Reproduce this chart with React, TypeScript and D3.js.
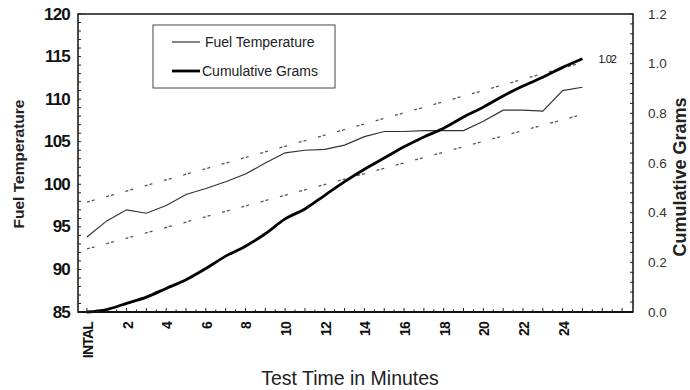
import React from "react";
import * as d3 from "d3";

// Test minutes (0 = initial reading)
const minutes = [0, 1, 2, 3, 4, 5, 6, 7, 8, 9, 10, 11, 12, 13, 14, 15, 16, 17, 18, 19, 20, 21, 22, 23, 24, 25];
const fuelTemperature = [93.8, 95.7, 97.0, 96.6, 97.5, 98.8, 99.5, 100.3, 101.2, 102.5, 103.7, 104.0, 104.1, 104.6, 105.6, 106.2, 106.2, 106.3, 106.3, 106.3, 107.4, 108.7, 108.7, 108.6, 111.0, 111.4];
const cumulativeGrams = [0, 0.01, 0.035, 0.06, 0.095, 0.13, 0.175, 0.225, 0.265, 0.315, 0.375, 0.415, 0.47, 0.525, 0.575, 0.62, 0.665, 0.705, 0.74, 0.785, 0.825, 0.87, 0.91, 0.945, 0.985, 1.02];

// Straight temperature band limits
const bandMinutes = [0, 25];
const upperBand = [97.9, 114.3];
const lowerBand = [92.4, 108.2];

// Axis labels
const tempTicks = [85, 90, 95, 100, 105, 110, 115, 120];
const gramTicks = [0, 0.2, 0.4, 0.6, 0.8, 1.0, 1.2];
const xTickMinutes = [0, 2, 4, 6, 8, 10, 12, 14, 16, 18, 20, 22, 24];
const xTickLabels = ["INTAL", "2", "4", "6", "8", "10", "12", "14", "16", "18", "20", "22", "24"];

const W = 690;
const H = 390;
const left = 78;
const right = 633;
const top = 14;
const bottom = 312;

export default function App() {
  const x = d3.scaleLinear().domain([-0.45, 27.55]).range([left, right]);
  const yT = d3.scaleLinear().domain([85, 120]).range([bottom, top]);
  const yG = d3.scaleLinear().domain([0, 1.2]).range([bottom, top]);

  const tempLine = d3
    .line<number>()
    .x((_, i) => x(minutes[i]))
    .y((d) => yT(d));
  const gramLine = d3
    .line<number>()
    .x((_, i) => x(minutes[i]))
    .y((d) => yG(d))
    .curve(d3.curveMonotoneX);
  const bandLine = d3
    .line<number>()
    .x((_, i) => x(bandMinutes[i]))
    .y((d) => yT(d));

  const tempMinor = d3.range(85, 120.001, 1);
  const gramMinor = d3.range(0, 1.2001, 0.04);
  const xMinor = d3.range(0, 27.01, 0.5);

  const last = cumulativeGrams.length - 1;
  const fmt = d3.format(".2f");

  return (
    <svg
      width={W}
      height={H}
      style={{ position: "absolute", left: 0, top: 0, background: "#fff" }}
      fontFamily="'Liberation Sans', Arial, sans-serif"
    >
      <rect x={0} y={0} width={W} height={H} fill="#fff" />

      {/* band lines */}
      <path d={bandLine(upperBand) || ""} fill="none" stroke="#555" strokeWidth={1.3} strokeDasharray="3 2 3 12" />
      <path d={bandLine(lowerBand) || ""} fill="none" stroke="#555" strokeWidth={1.3} strokeDasharray="3 2 3 12" />

      {/* series */}
      <path d={tempLine(fuelTemperature) || ""} fill="none" stroke="#333" strokeWidth={1.2} />
      <path d={gramLine(cumulativeGrams) || ""} fill="none" stroke="#000" strokeWidth={2.8} />
      <text
        x={x(minutes[last]) + 16}
        y={yG(cumulativeGrams[last]) + 1}
        fontSize={11}
        letterSpacing={-1}
        dominantBaseline="middle"
        fill="#111"
      >
        {fmt(cumulativeGrams[last])}
      </text>

      {/* frame */}
      <rect x={left} y={top} width={right - left} height={bottom - top} fill="none" stroke="#111" strokeWidth={1.5} />
      <line x1={left} x2={right} y1={bottom} y2={bottom} stroke="#111" strokeWidth={2} />

      {/* left ticks */}
      {tempMinor.map((v) => (
        <line key={"tl" + v} x1={left} x2={left + 3} y1={yT(v)} y2={yT(v)} stroke="#222" strokeWidth={1} />
      ))}
      {tempTicks.map((v) => (
        <text
          key={"tt" + v}
          x={70}
          y={yT(v)}
          textAnchor="end"
          dominantBaseline="central"
          fontSize={17}
          fontWeight="bold"
          letterSpacing={-0.8}
          fill="#111"
        >
          {v}
        </text>
      ))}

      {/* right ticks */}
      {gramMinor.map((v) => (
        <line key={"gl" + v} x1={right - 3} x2={right} y1={yG(v)} y2={yG(v)} stroke="#222" strokeWidth={1} />
      ))}
      {gramTicks.map((v) => (
        <text
          key={"gt" + v}
          x={648}
          y={yG(v)}
          textAnchor="start"
          dominantBaseline="central"
          fontSize={13.5}
          fill="#333"
        >
          {d3.format(".1f")(v)}
        </text>
      ))}

      {/* bottom ticks */}
      {xMinor.map((v) => (
        <line
          key={"xl" + v}
          x1={x(v)}
          x2={x(v)}
          y1={bottom}
          y2={bottom - (Number.isInteger(v) ? 4 : 2.5)}
          stroke="#222"
          strokeWidth={1}
        />
      ))}
      {xTickMinutes.map((m, i) => (
        <text
          key={"xt" + m}
          transform={`translate(${x(m) + 1},322) rotate(-90)`}
          textAnchor="end"
          dominantBaseline="central"
          fontSize={14}
          fontWeight="bold"
          letterSpacing={-0.8}
          fill="#111"
        >
          {xTickLabels[i]}
        </text>
      ))}

      {/* axis titles */}
      <text x={350} y={385} textAnchor="middle" fontSize={19.5} fill="#222">
        Test Time in Minutes
      </text>
      <text
        transform="translate(18,164) rotate(-90)"
        textAnchor="middle"
        dominantBaseline="central"
        fontSize={15.5}
        fontWeight="bold"
        fill="#222"
      >
        Fuel Temperature
      </text>
      <text
        transform="translate(680,177) rotate(-90)"
        textAnchor="middle"
        dominantBaseline="central"
        fontSize={18}
        fontWeight="bold"
        fill="#222"
      >
        Cumulative Grams
      </text>

      {/* legend */}
      <rect x={153} y={25} width={182} height={63} fill="#fff" stroke="#444" strokeWidth={1} />
      <line x1={172} x2={200} y1={42} y2={42} stroke="#333" strokeWidth={1.2} />
      <text x={205} y={42} dominantBaseline="central" fontSize={14} fill="#222">
        Fuel Temperature
      </text>
      <line x1={172} x2={200} y1={71} y2={71} stroke="#000" strokeWidth={2.8} />
      <text x={202} y={71} dominantBaseline="central" fontSize={14} fill="#222">
        Cumulative Grams
      </text>
    </svg>
  );
}
